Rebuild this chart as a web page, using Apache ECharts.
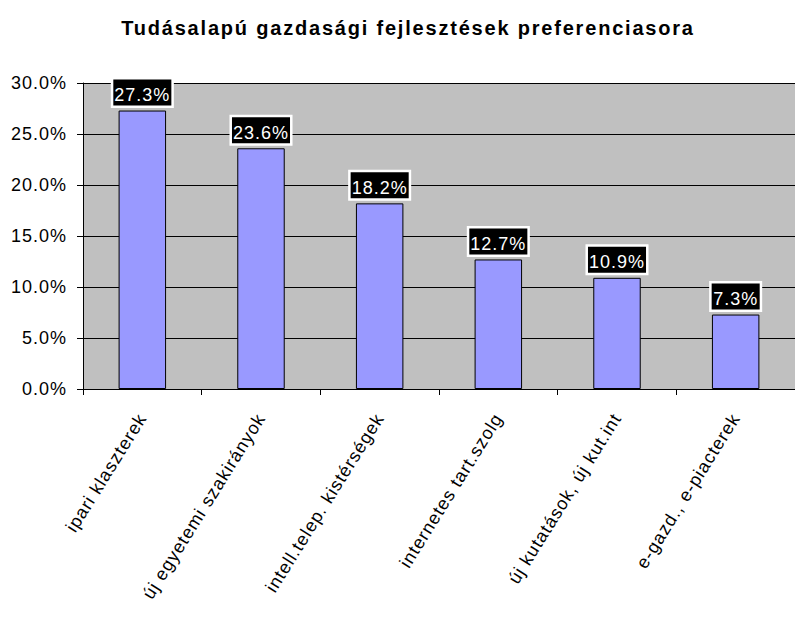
<!DOCTYPE html>
<html>
<head>
<meta charset="utf-8">
<script src="https://cdn.jsdelivr.net/npm/echarts@6/dist/echarts.min.js"></script>
<style>
  html, body { margin: 0; padding: 0; background: #fff; }
  #main { width: 795px; height: 619px; }
  /* the source chart has loosely spaced glyphs */
  #main svg text { letter-spacing: 1px; }
  #main svg text[style*="bold"] { letter-spacing: 1.8px; }
</style>
</head>
<body>
<div id="main"></div>
<script>
var categories = ['ipari klaszterek', 'új egyetemi szakirányok', 'intell.telep. kistérségek',
    'internetes tart.szolg', 'új kutatások, új kut.int', 'e-gazd., e-piacterek'];
var shares = [27.3, 23.6, 18.2, 12.7, 10.9, 7.3];
var yTicks = [0, 5, 10, 15, 20, 25, 30];

var chart = echarts.init(document.getElementById('main'), null, { renderer: 'svg' });
var option = {
    animation: false,
    textStyle: { fontFamily: 'Arial, "Liberation Sans", sans-serif' },
    title: {
        text: 'Tudásalapú gazdasági fejlesztések preferenciasora',
        left: 403,
        textAlign: 'center',
        top: 13,
        textStyle: { fontSize: 20, fontWeight: 'bold', color: '#000' }
    },
    grid: {
        left: 83,
        top: 83,
        width: 722,
        height: 306,
        show: true,
        backgroundColor: '#C0C0C0',
        borderWidth: 0
    },
    xAxis: {
        type: 'category',
        data: categories,
        axisLine: { lineStyle: { color: '#000', width: 1 } },
        axisTick: { show: true, length: 6, lineStyle: { color: '#000' } },
        axisLabel: {
            rotate: 58,
            margin: 26,
            fontSize: 18,
            color: '#000',
            interval: 0
        }
    },
    yAxis: {
        type: 'value',
        min: yTicks[0],
        max: yTicks[yTicks.length - 1],
        interval: 5,
        axisLine: { show: true, lineStyle: { color: '#000', width: 1 } },
        axisTick: { show: true, length: 6, lineStyle: { color: '#000' } },
        axisLabel: {
            fontSize: 18,
            color: '#000',
            margin: 16,
            formatter: function (v) { return v.toFixed(1) + '%'; }
        },
        splitLine: { show: true, lineStyle: { color: '#000', width: 1 } }
    },
    series: [{
        type: 'bar',
        data: shares,
        barWidth: '40%',
        itemStyle: { color: '#9999FF', borderColor: '#000', borderWidth: 1 },
        label: {
            show: true,
            position: 'top',
            distance: 5,
            fontSize: 18,
            lineHeight: 21,
            color: '#fff',
            backgroundColor: '#000',
            borderColor: '#fff',
            borderWidth: 2.5,
            padding: [5, 3.5, 0, 3.5],
            formatter: function (p) { return p.value.toFixed(1) + '%'; }
        }
    }]
};
chart.setOption(option);
</script>
</body>
</html>
